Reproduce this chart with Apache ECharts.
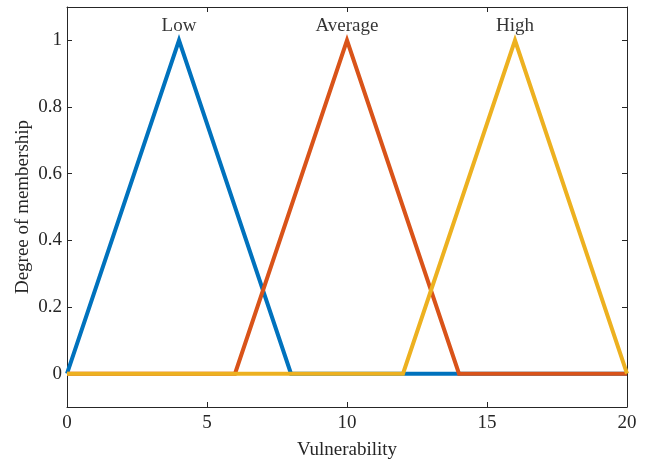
<!DOCTYPE html>
<html><head><meta charset="utf-8">
<script src="https://cdn.jsdelivr.net/npm/echarts@6/dist/echarts.min.js"></script>
<style>html,body{margin:0;padding:0;background:#fff}#c{width:650px;height:461px}</style>
</head><body><div id="c"></div>
<script>
const lowX = [0, 4, 8, 20];
const lowY = [0, 1, 0, 0];
const avgX = [0, 6, 10, 14, 20];
const avgY = [0, 0, 1, 0, 0];
const highX = [0, 12, 16, 20];
const highY = [0, 0, 1, 0];
const setNames = ['Low', 'Average', 'High'];
const peakX = [4, 10, 16];
const peakY = [1, 1, 1];
const xTicks = [0, 5, 10, 15, 20];
const yTicks = [0, 0.2, 0.4, 0.6, 0.8, 1];

const font = 'Liberation Serif, Times New Roman, serif';
const axisCol = '#262626';
const fs = 19;
function line(name, xs, ys, color, z) {
  return {type: 'line', name, data: xs.map((x, i) => [x, ys[i]]), symbol: 'none', showSymbol: false,
    lineStyle: {width: 4, color, join: 'miter'}, itemStyle: {color}, z, animation: false};
}
const chart = echarts.init(document.getElementById('c'), null, {renderer: 'canvas'});
const axisBase = {
  axisLine: {show: true, onZero: false, lineStyle: {color: axisCol, width: 1}},
  axisTick: {show: true, inside: true, length: 5, lineStyle: {color: axisCol}},
  splitLine: {show: false},
};
chart.setOption({
  animation: false,
  grid: {left: 67, right: 23, top: 7, bottom: 54, containLabel: false, outerBoundsMode: 'none'},
  xAxis: [
    Object.assign({}, axisBase, {type: 'value', min: 0, max: 20, interval: 5, position: 'bottom',
      name: 'Vulnerability', nameLocation: 'middle', nameGap: 34,
      nameTextStyle: {fontFamily: font, fontSize: fs, color: axisCol},
      axisTick: Object.assign({}, axisBase.axisTick, {customValues: xTicks}),
      axisLabel: {customValues: xTicks, fontFamily: font, fontSize: fs, color: axisCol, margin: 7}}),
    Object.assign({}, axisBase, {type: 'value', min: 0, max: 20, interval: 5, position: 'top',
      axisTick: Object.assign({}, axisBase.axisTick, {customValues: xTicks}),
      axisLabel: {show: false}})
  ],
  yAxis: [
    Object.assign({}, axisBase, {type: 'value', min: -0.1, max: 1.1, position: 'left',
      name: 'Degree of membership', nameLocation: 'middle', nameGap: 34, nameRotate: 90,
      nameMoveOverlap: false,
      nameTextStyle: {fontFamily: font, fontSize: fs, color: axisCol},
      axisTick: Object.assign({}, axisBase.axisTick, {customValues: yTicks}),
      axisLabel: {customValues: yTicks, fontFamily: font, fontSize: fs, color: axisCol, margin: 5,
        formatter: v => String(Math.round(v * 10) / 10)}}),
    Object.assign({}, axisBase, {type: 'value', min: -0.1, max: 1.1, position: 'right',
      axisTick: Object.assign({}, axisBase.axisTick, {customValues: yTicks}),
      axisLabel: {show: false}})
  ],
  series: [
    line(setNames[0], lowX, lowY, '#0072BD', 2),
    line(setNames[1], avgX, avgY, '#D95319', 3),
    line(setNames[2], highX, highY, '#EDB120', 4),
    {type: 'scatter', symbol: 'circle', symbolSize: 0, silent: true, z: 5,
      itemStyle: {color: 'rgba(0,0,0,0)'},
      data: peakX.map((x, i) => ({value: [x, peakY[i]], name: setNames[i]})),
      label: {show: true, position: 'top', distance: 5, formatter: p => p.name,
        fontFamily: font, fontSize: fs, color: '#000'},
      labelLayout: {hideOverlap: false}}
  ]
});
</script></body></html>
